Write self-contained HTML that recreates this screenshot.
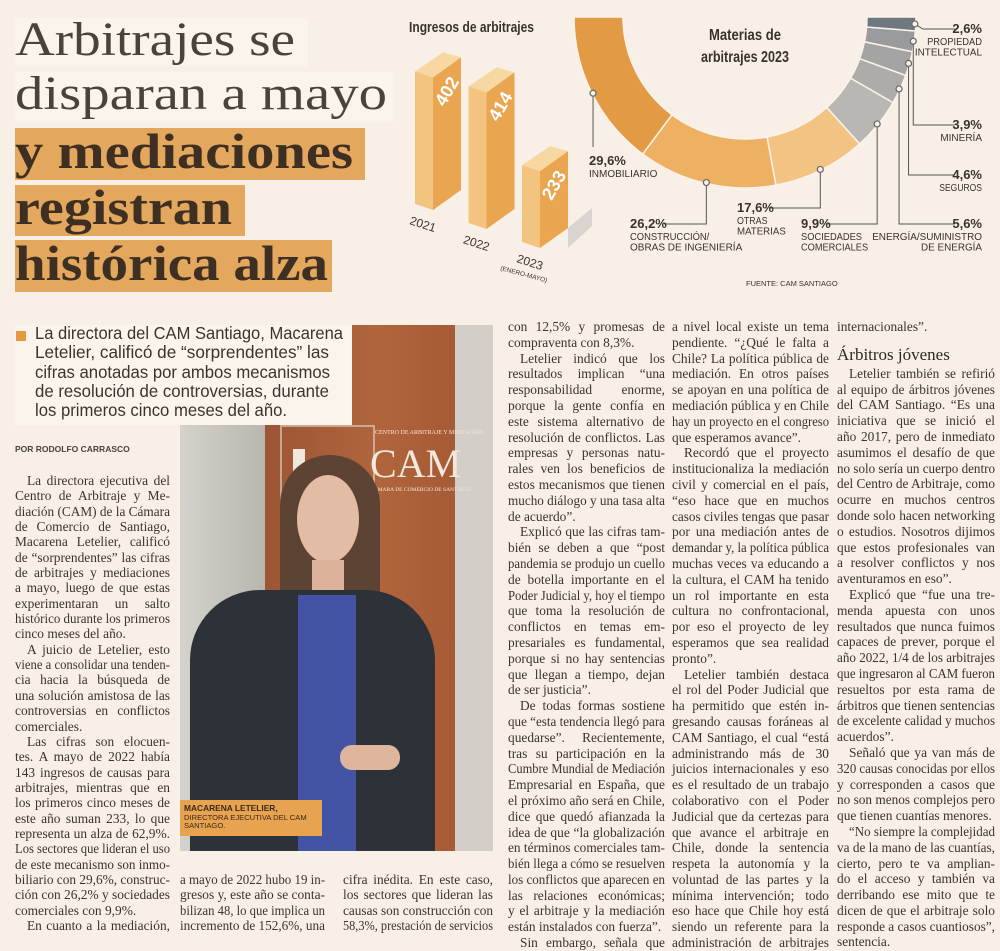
<!DOCTYPE html>
<html><head><meta charset="utf-8">
<style>
*{margin:0;padding:0;box-sizing:border-box}
body{width:1000px;height:942px;background:#f8efe6;position:relative;overflow:hidden;font-family:"Liberation Serif",serif;color:#3b342e}
.abs{position:absolute}
.tl{position:absolute;left:15px;white-space:nowrap;font-family:"Liberation Serif",serif}
.col{position:absolute}
.ln{height:var(--lh);line-height:var(--lh);font-size:13.4px;white-space:nowrap;overflow:visible;text-align:left}
.ln span{display:inline-block;transform-origin:0 50%}
.ind span{margin-left:12px}
</style></head><body>

<!-- headline -->
<div class="abs" style="left:15px;top:18px;width:293px;height:48px;background:#fbf4ec"></div>
<div class="abs" style="left:15px;top:72px;width:378px;height:50px;background:#fbf4ec"></div>
<div class="abs" style="left:15px;top:128px;width:350px;height:52px;background:#e4a75e"></div>
<div class="abs" style="left:15px;top:185px;width:230px;height:51px;background:#e4a75e"></div>
<div class="abs" style="left:15px;top:240px;width:317px;height:52px;background:#e4a75e"></div>
<div class="tl fit" data-w="280" style="top:14px;font-size:48px;line-height:52px;color:#4a433c">Arbitrajes se</div>
<div class="tl fit" data-w="372" style="top:68px;font-size:48px;line-height:52px;color:#4a433c">disparan a mayo</div>
<div class="tl fit" data-w="338" style="top:124px;font-size:50px;line-height:54px;font-weight:bold;color:#3d2f22">y mediaciones</div>
<div class="tl fit" data-w="217" style="top:180px;font-size:50px;line-height:54px;font-weight:bold;color:#3d2f22">registran</div>
<div class="tl fit" data-w="313" style="top:236px;font-size:50px;line-height:54px;font-weight:bold;color:#3d2f22">histórica alza</div>

<!-- charts -->
<svg class="abs" style="left:0;top:0" width="1000" height="300" id="chart">
  <text x="409" y="32" font-family="Liberation Sans, sans-serif" font-weight="bold" font-size="15" fill="#3a332d" textLength="125" lengthAdjust="spacingAndGlyphs">Ingresos de arbitrajes</text>
  <g id="bars"></g>
  <g id="donut"></g>
  <text x="745" y="40" text-anchor="middle" font-family="Liberation Sans, sans-serif" font-weight="bold" font-size="16" fill="#3a332d" textLength="72" lengthAdjust="spacingAndGlyphs">Materias de</text>
  <text x="745" y="62" text-anchor="middle" font-family="Liberation Sans, sans-serif" font-weight="bold" font-size="16" fill="#3a332d" textLength="88" lengthAdjust="spacingAndGlyphs">arbitrajes 2023</text>
  <g id="labels" font-family="Liberation Sans, sans-serif" fill="#3a332d"></g>
  <text x="746" y="286" font-family="Liberation Sans, sans-serif" font-size="7.5" fill="#3a332d">FUENTE: CAM SANTIAGO</text>
</svg>

<!-- photo -->
<div class="abs" style="left:180px;top:325px;width:313px;height:526px;overflow:hidden;background:#cbc7c0">
  <div class="abs" style="left:0;top:0;width:85px;height:526px;background:linear-gradient(90deg,#d5d2cc,#b9b6b0)"></div>
  <div class="abs" style="left:85px;top:0;width:190px;height:526px;background:linear-gradient(90deg,#9c5534,#b0653d 60%,#a65a35)"></div>
  <div class="abs" style="left:275px;top:0;width:38px;height:526px;background:#d3cfc8"></div>
  <div class="abs" style="left:100px;top:100px;width:95px;height:140px;border:2px solid #d9c7b8;opacity:.7"></div>
  <div class="abs" style="left:195px;top:105px;font-size:6px;color:#f3e6da;white-space:nowrap">CENTRO DE ARBITRAJE Y MEDIACIÓN</div>
  <div class="abs" style="left:190px;top:115px;font-size:40px;color:#f3e8dd;font-family:'Liberation Serif',serif">CAM</div>
  <div class="abs" style="left:190px;top:162px;font-size:5.5px;color:#f3e6da;white-space:nowrap">CÁMARA DE COMERCIO DE SANTIAGO</div>
  <div class="abs" style="left:113px;top:124px;width:12px;height:42px;background:#f0e6dc"></div>
  <div class="abs" style="left:100px;top:130px;width:100px;height:200px;border-radius:50px 50px 20px 20px;background:#5d4334"></div>
  <div class="abs" style="left:117px;top:150px;width:62px;height:88px;border-radius:50%;background:#e3bca6"></div>
  <div class="abs" style="left:132px;top:235px;width:32px;height:40px;background:#dcb29b"></div>
  <div class="abs" style="left:10px;top:265px;width:245px;height:270px;border-radius:70px 70px 0 0;background:#2d3138"></div>
  <div class="abs" style="left:118px;top:270px;width:58px;height:260px;background:#4254a3"></div>
  <div class="abs" style="left:160px;top:420px;width:60px;height:25px;border-radius:12px;background:#dfb59e"></div>
</div>
<div class="abs" style="left:180px;top:800px;width:142px;height:36px;background:#e8a351;padding:4px 0 0 4px;font-family:'Liberation Sans',sans-serif;font-size:7.6px;line-height:8.6px;color:#3a2a1c">
<b style="font-size:8.4px">MACARENA LETELIER,</b><br>DIRECTORA EJECUTIVA DEL CAM<br>SANTIAGO.
</div>

<!-- deck (above photo) -->
<div class="abs" style="left:15px;top:325px;width:337px;height:100px;background:#fbf4ec;z-index:2"></div>
<div class="abs" style="left:16px;top:331px;width:10px;height:10px;background:#e39a45;z-index:3"></div>
<div class="abs" style="left:35px;top:324px;width:320px;font-family:'Liberation Sans',sans-serif;font-size:17.5px;line-height:19.3px;color:#3b342e;z-index:3">
<div class="fitl" data-w="308">La directora del CAM Santiago, Macarena</div>
<div class="fitl" data-w="294">Letelier, calificó de “sorprendentes” las</div>
<div class="fitl" data-w="295">cifras anotadas por ambos mecanismos</div>
<div class="fitl" data-w="294">de resolución de controversias, durante</div>
<div class="fitl" data-w="252">los primeros cinco meses del año.</div>
</div>
<div class="abs" style="left:15px;top:444px;font-family:'Liberation Sans',sans-serif;font-weight:bold;font-size:8.5px;color:#4a433c">POR RODOLFO CARRASCO</div>

<!-- body columns -->
<div class="col" style="left:15px;top:473px;width:155px;--lh:15.35px">
<div class="ln ind j"><span>La directora ejecutiva del</span></div>
<div class="ln j"><span>Centro de Arbitraje y Me-</span></div>
<div class="ln j"><span>diación (CAM) de la Cámara</span></div>
<div class="ln j"><span>de Comercio de Santiago,</span></div>
<div class="ln j"><span>Macarena Letelier, calificó</span></div>
<div class="ln j"><span>de “sorprendentes” las cifras</span></div>
<div class="ln j"><span>de arbitrajes y mediaciones</span></div>
<div class="ln j"><span>a mayo, luego de que estas</span></div>
<div class="ln j"><span>experimentaran un salto</span></div>
<div class="ln j"><span>histórico durante los primeros</span></div>
<div class="ln"><span>cinco meses del año.</span></div>
<div class="ln ind j"><span>A juicio de Letelier, esto</span></div>
<div class="ln j"><span>viene a consolidar una tenden-</span></div>
<div class="ln j"><span>cia hacia la búsqueda de</span></div>
<div class="ln j"><span>una solución amistosa de las</span></div>
<div class="ln j"><span>controversias en conflictos</span></div>
<div class="ln"><span>comerciales.</span></div>
<div class="ln ind j"><span>Las cifras son elocuen-</span></div>
<div class="ln j"><span>tes. A mayo de 2022 había</span></div>
<div class="ln j"><span>143 ingresos de causas para</span></div>
<div class="ln j"><span>arbitrajes, mientras que en</span></div>
<div class="ln j"><span>los primeros cinco meses de</span></div>
<div class="ln j"><span>este año suman 233, lo que</span></div>
<div class="ln j"><span>representa un alza de 62,9%.</span></div>
<div class="ln j"><span>Los sectores que lideran el uso</span></div>
<div class="ln j"><span>de este mecanismo son inmo-</span></div>
<div class="ln j"><span>biliario con 29,6%, construc-</span></div>
<div class="ln j"><span>ción con 26,2% y sociedades</span></div>
<div class="ln"><span>comerciales con 9,9%.</span></div>
<div class="ln ind j"><span>En cuanto a la mediación,</span></div>
</div>

<div class="col" style="left:180px;top:872px;width:145px;--lh:15.35px">
<div class="ln j"><span>a mayo de 2022 hubo 19 in-</span></div>
<div class="ln j"><span>gresos y, este año se conta-</span></div>
<div class="ln j"><span>bilizan 48, lo que implica un</span></div>
<div class="ln j"><span>incremento de 152,6%, una</span></div>
</div>
<div class="col" style="left:343px;top:872px;width:150px;--lh:15.35px">
<div class="ln j"><span>cifra inédita. En este caso,</span></div>
<div class="ln j"><span>los sectores que lideran las</span></div>
<div class="ln j"><span>causas son construcción con</span></div>
<div class="ln j"><span>58,3%, prestación de servicios</span></div>
</div>

<div class="col" style="left:508px;top:319px;width:157px;--lh:15.8px">
<div class="ln j"><span>con 12,5% y promesas de</span></div>
<div class="ln"><span>compraventa con 8,3%.</span></div>
<div class="ln ind j"><span>Letelier indicó que los</span></div>
<div class="ln j"><span>resultados implican “una</span></div>
<div class="ln j"><span>responsabilidad enorme,</span></div>
<div class="ln j"><span>porque la gente confía en</span></div>
<div class="ln j"><span>este sistema alternativo de</span></div>
<div class="ln j"><span>resolución de conflictos. Las</span></div>
<div class="ln j"><span>empresas y personas natu-</span></div>
<div class="ln j"><span>rales ven los beneficios de</span></div>
<div class="ln j"><span>estos mecanismos que tienen</span></div>
<div class="ln j"><span>mucho diálogo y una tasa alta</span></div>
<div class="ln"><span>de acuerdo”.</span></div>
<div class="ln ind j"><span>Explicó que las cifras tam-</span></div>
<div class="ln j"><span>bién se deben a que “post</span></div>
<div class="ln j"><span>pandemia se produjo un cuello</span></div>
<div class="ln j"><span>de botella importante en el</span></div>
<div class="ln j"><span>Poder Judicial y, hoy el tiempo</span></div>
<div class="ln j"><span>que toma la resolución de</span></div>
<div class="ln j"><span>conflictos en temas em-</span></div>
<div class="ln j"><span>presariales es fundamental,</span></div>
<div class="ln j"><span>porque si no hay sentencias</span></div>
<div class="ln j"><span>que llegan a tiempo, dejan</span></div>
<div class="ln"><span>de ser justicia”.</span></div>
<div class="ln ind j"><span>De todas formas sostiene</span></div>
<div class="ln j"><span>que “esta tendencia llegó para</span></div>
<div class="ln j"><span>quedarse”. Recientemente,</span></div>
<div class="ln j"><span>tras su participación en la</span></div>
<div class="ln j"><span>Cumbre Mundial de Mediación</span></div>
<div class="ln j"><span>Empresarial en España, que</span></div>
<div class="ln j"><span>el próximo año será en Chile,</span></div>
<div class="ln j"><span>dice que quedó afianzada la</span></div>
<div class="ln j"><span>idea de que “la globalización</span></div>
<div class="ln j"><span>en términos comerciales tam-</span></div>
<div class="ln j"><span>bién llega a cómo se resuelven</span></div>
<div class="ln j"><span>los conflictos que aparecen en</span></div>
<div class="ln j"><span>las relaciones económicas;</span></div>
<div class="ln j"><span>y el arbitraje y la mediación</span></div>
<div class="ln"><span>están instalados con fuerza”.</span></div>
<div class="ln ind j"><span>Sin embargo, señala que</span></div>
</div>

<div class="col" style="left:672px;top:319px;width:157px;--lh:15.8px">
<div class="ln j"><span>a nivel local existe un tema</span></div>
<div class="ln j"><span>pendiente. “¿Qué le falta a</span></div>
<div class="ln j"><span>Chile? La política pública de</span></div>
<div class="ln j"><span>mediación. En otros países</span></div>
<div class="ln j"><span>se apoyan en una política de</span></div>
<div class="ln j"><span>mediación pública y en Chile</span></div>
<div class="ln j"><span>hay un proyecto en el congreso</span></div>
<div class="ln"><span>que esperamos avance”.</span></div>
<div class="ln ind j"><span>Recordó que el proyecto</span></div>
<div class="ln j"><span>institucionaliza la mediación</span></div>
<div class="ln j"><span>civil y comercial en el país,</span></div>
<div class="ln j"><span>“eso hace que en muchos</span></div>
<div class="ln j"><span>casos civiles tengas que pasar</span></div>
<div class="ln j"><span>por una mediación antes de</span></div>
<div class="ln j"><span>demandar y, la política pública</span></div>
<div class="ln j"><span>muchas veces va educando a</span></div>
<div class="ln j"><span>la cultura, el CAM ha tenido</span></div>
<div class="ln j"><span>un rol importante en esta</span></div>
<div class="ln j"><span>cultura no confrontacional,</span></div>
<div class="ln j"><span>por eso el proyecto de ley</span></div>
<div class="ln j"><span>esperamos que sea realidad</span></div>
<div class="ln"><span>pronto”.</span></div>
<div class="ln ind j"><span>Letelier también destaca</span></div>
<div class="ln j"><span>el rol del Poder Judicial que</span></div>
<div class="ln j"><span>ha permitido que estén in-</span></div>
<div class="ln j"><span>gresando causas foráneas al</span></div>
<div class="ln j"><span>CAM Santiago, el cual “está</span></div>
<div class="ln j"><span>administrando más de 30</span></div>
<div class="ln j"><span>juicios internacionales y eso</span></div>
<div class="ln j"><span>es el resultado de un trabajo</span></div>
<div class="ln j"><span>colaborativo con el Poder</span></div>
<div class="ln j"><span>Judicial que da certezas para</span></div>
<div class="ln j"><span>que avance el arbitraje en</span></div>
<div class="ln j"><span>Chile, donde la sentencia</span></div>
<div class="ln j"><span>respeta la autonomía y la</span></div>
<div class="ln j"><span>voluntad de las partes y la</span></div>
<div class="ln j"><span>mínima intervención; todo</span></div>
<div class="ln j"><span>eso hace que Chile hoy está</span></div>
<div class="ln j"><span>siendo un referente para la</span></div>
<div class="ln j"><span>administración de arbitrajes</span></div>
</div>

<div class="col" style="left:837px;top:319px;width:158px;--lh:15.8px">
<div class="ln"><span>internacionales”.</span></div>
<div style="height:31px;padding-top:10px;font-size:17px;line-height:20px;color:#2f2924">Árbitros jóvenes</div>
<div class="ln ind j"><span>Letelier también se refirió</span></div>
<div class="ln j"><span>al equipo de árbitros jóvenes</span></div>
<div class="ln j"><span>del CAM Santiago. “Es una</span></div>
<div class="ln j"><span>iniciativa que se inició el</span></div>
<div class="ln j"><span>año 2017, pero de inmediato</span></div>
<div class="ln j"><span>asumimos el desafío de que</span></div>
<div class="ln j"><span>no solo sería un cuerpo dentro</span></div>
<div class="ln j"><span>del Centro de Arbitraje, como</span></div>
<div class="ln j"><span>ocurre en muchos centros</span></div>
<div class="ln j"><span>donde solo hacen networking</span></div>
<div class="ln j"><span>o estudios. Nosotros dijimos</span></div>
<div class="ln j"><span>que estos profesionales van</span></div>
<div class="ln j"><span>a resolver conflictos y nos</span></div>
<div class="ln"><span>aventuramos en eso”.</span></div>
<div class="ln ind j"><span>Explicó que “fue una tre-</span></div>
<div class="ln j"><span>menda apuesta con unos</span></div>
<div class="ln j"><span>resultados que nunca fuimos</span></div>
<div class="ln j"><span>capaces de prever, porque el</span></div>
<div class="ln j"><span>año 2022, 1/4 de los arbitrajes</span></div>
<div class="ln j"><span>que ingresaron al CAM fueron</span></div>
<div class="ln j"><span>resueltos por esta rama de</span></div>
<div class="ln j"><span>árbitros que tienen sentencias</span></div>
<div class="ln j"><span>de excelente calidad y muchos</span></div>
<div class="ln"><span>acuerdos”.</span></div>
<div class="ln ind j"><span>Señaló que ya van más de</span></div>
<div class="ln j"><span>320 causas conocidas por ellos</span></div>
<div class="ln j"><span>y corresponden a casos que</span></div>
<div class="ln j"><span>no son menos complejos pero</span></div>
<div class="ln"><span>que tienen cuantías menores.</span></div>
<div class="ln ind j"><span>“No siempre la complejidad</span></div>
<div class="ln j"><span>va de la mano de las cuantías,</span></div>
<div class="ln j"><span>cierto, pero te va amplian-</span></div>
<div class="ln j"><span>do el acceso y también va</span></div>
<div class="ln j"><span>derribando ese mito que te</span></div>
<div class="ln j"><span>dicen de que el arbitraje solo</span></div>
<div class="ln j"><span>responde a casos cuantiosos”,</span></div>
<div class="ln"><span>sentencia.</span></div>
</div>

<script>
// ---- bar chart data ----
const barYears = ["2021", "2022", "2023"];
const barValues = [402, 414, 233];
// ---- donut data ----
const donutCategories = ["INMOBILIARIO", "CONSTRUCCIÓN/OBRAS DE INGENIERÍA", "OTRAS MATERIAS", "SOCIEDADES COMERCIALES", "ENERGÍA/SUMINISTRO DE ENERGÍA", "SEGUROS", "MINERÍA", "PROPIEDAD INTELECTUAL"];
const donutValues = [29.6, 26.2, 17.6, 9.9, 5.6, 4.6, 3.9, 2.6];
const donutLabels = ["29,6%", "26,2%", "17,6%", "9,9%", "5,6%", "4,6%", "3,9%", "2,6%"];

const NS = "http://www.w3.org/2000/svg";
function mk(tag, attrs, parent){const e=document.createElementNS(NS,tag);for(const k in attrs)e.setAttribute(k,attrs[k]);parent.appendChild(e);return e;}

// bars
const barsG = document.getElementById('bars');
const barX0 = 415, barStep = 53.5, barBase0 = 210, barBaseStep = 19;
function barH(v){return 20 + v*0.33;}
barValues.forEach((v,i)=>{
  const x0 = barX0 + i*barStep, yb = barBase0 + i*barBaseStep, yt = yb - barH(v);
  const g = mk('g',{},barsG);
  
  
  if(i===2){ mk('polygon',{points:`${x0+46},${yb-20} ${x0+70},${yb-40} ${x0+70},${yb-22} ${x0+46},${yb}`,fill:'#d9d4cf'},g); }
  mk('polygon',{points:`${x0},${yt+14} ${x0+18},${yt+20} ${x0+18},${yb} ${x0},${yb-6}`,fill:'#f3c47f'},g);
  mk('polygon',{points:`${x0+18},${yt+20} ${x0+46},${yt} ${x0+46},${yb-20} ${x0+18},${yb}`,fill:'#e9a54f'},g);
  mk('polygon',{points:`${x0},${yt+14} ${x0+28},${yt-5} ${x0+46},${yt} ${x0+18},${yt+20}`,fill:'#f7d7a2'},g);
  const t = mk('text',{x:x0+32,y:yt+40,'text-anchor':'middle','font-family':'Liberation Sans, sans-serif','font-weight':'bold','font-size':'18',fill:'#fff',transform:`rotate(-60 ${x0+32} ${yt+34})`},g);
  t.textContent = v;
  
  
  const yl = mk('text',{x:x0-6,y:yb+14,'font-family':'Liberation Sans, sans-serif','font-size':'12',fill:'#3a332d',transform:`rotate(18 ${x0-6} ${yb+14})`},g);
  yl.textContent = barYears[i];
  
  
});
const em = mk('text',{x:500,y:270,'font-family':'Liberation Sans, sans-serif','font-size':'6.5',fill:'#3a332d',transform:'rotate(15 500 270)'},barsG);
em.textContent='(ENERO-MAYO)';



// donut
const donutG = document.getElementById('donut');
const cx=745, cy=17, rO=171, rI=122;
const colors=['#e39a45','#eeb062','#f3c383','#b8b7b4','#adacaa','#a4a4a4','#999b9e','#6f7880'];
const total = donutValues.reduce((a,b)=>a+b,0);
function ang(f){return Math.PI - f*Math.PI;}
function pt(a,r){return [cx+r*Math.cos(a), cy+r*Math.sin(a)];}
let acc=0; const mids=[];
donutValues.forEach((v,i)=>{
  const a0=ang(acc/total), a1=ang((acc+v)/total); acc+=v;
  mids.push((a0+a1)/2);
  const p0=pt(a0,rO),p1=pt(a1,rO),p2=pt(a1,rI),p3=pt(a0,rI);
  const p = mk('path',{d:`M${p0} A${rO},${rO} 0 0 0 ${p1} L${p2} A${rI},${rI} 0 0 1 ${p3} Z`,fill:colors[i],stroke:'#fbf3ea','stroke-width':'1.5'},donutG);
  
  
});

// labels (annotation anchors)
const labG=document.getElementById('labels');
const labPos=[[589,165,'l'],[630,228,'l'],[737,212,'l'],[801,228,'l'],[982,228,'r'],[982,179,'r'],[982,129,'r'],[982,33,'r']];
const lineEnd=[null,664,769,827,955,955,955,955];
const wordLines = [['INMOBILIARIO'],['CONSTRUCCIÓN/','OBRAS DE INGENIERÍA'],['OTRAS','MATERIAS'],['SOCIEDADES','COMERCIALES'],['ENERGÍA/SUMINISTRO','DE ENERGÍA'],['SEGUROS'],['MINERÍA'],['PROPIEDAD','INTELECTUAL']];
donutValues.forEach((v,i)=>{
  const [dx,dy]=pt(mids[i],rO-1);
  const [lx,ly,al]=labPos[i];
  const g=mk('g',{},labG);
  
  
  let pts;
  if(i===0) pts=`${dx},${dy} ${dx},${ly-18}`;
  else if(i===7) pts=`${dx},${dy} ${dx+8},${ly-4} ${lineEnd[i]},${ly-4}`;
  else pts=`${dx},${dy} ${dx},${ly-4} ${lineEnd[i]},${ly-4}`;
  mk('polyline',{points:pts,fill:'none',stroke:'#555','stroke-width':'1'},g);
  mk('circle',{cx:dx,cy:dy,r:3,fill:'#f8efe6',stroke:'#666','stroke-width':'1.2'},g);
  const anchor = al==='l'?'start':'end';
  const t=mk('text',{x:lx,y:ly,'text-anchor':anchor,'font-weight':'bold','font-size':'13'},g);
  t.textContent=donutLabels[i];
  wordLines[i].forEach((w,k)=>{
    const s=mk('text',{x:lx,y:ly+12+k*10.5,'text-anchor':anchor,'font-size':'10'},g);
    s.textContent=w;
    const bw=s.getComputedTextLength(), tw=w.length*6.1;
    if(bw>tw){s.setAttribute('textLength',tw);s.setAttribute('lengthAdjust','spacingAndGlyphs');}
  });
});

// fit headline lines
document.querySelectorAll('.fit,.fitl').forEach(el=>{
  el.style.display='inline-block';el.style.whiteSpace='nowrap';
  const w=+el.dataset.w, cw=el.getBoundingClientRect().width;
  el.style.transformOrigin='0 0';el.style.transform=`scaleX(${w/cw})`;
  if(el.classList.contains('fitl')){el.style.display='block';el.style.width=cw+'px';}
});
// fit body lines
document.querySelectorAll('.ln').forEach(el=>{
  const sp=el.firstElementChild;
  const W=el.clientWidth - (el.classList.contains('ind')?12:0);
  const sw=sp.getBoundingClientRect().width;
  if(sw>W){sp.style.transform=`scaleX(${W/sw})`;}
  else if(el.classList.contains('j')){
    const n=(sp.textContent.match(/ /g)||[]).length;
    if(n>0) sp.style.wordSpacing=((W-sw)/n)+'px';
  }
});
</script>
</body></html>
